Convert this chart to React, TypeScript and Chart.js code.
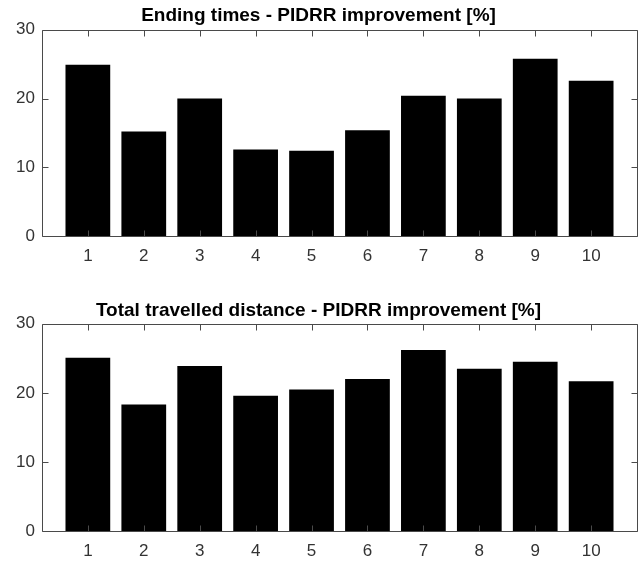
import React, { useEffect, useRef } from "react";
import { Chart, registerables } from "chart.js";

Chart.register(...registerables);

// ---- data ----
const categories = [1, 2, 3, 4, 5, 6, 7, 8, 9, 10];
const endingTimes = [24.9, 15.2, 20.0, 12.6, 12.4, 15.4, 20.4, 20.0, 25.8, 22.6];
const travelledDistance = [25.1, 18.3, 23.9, 19.6, 20.5, 22.0, 26.2, 23.5, 24.5, 21.7];
const yTicks = [0, 10, 20, 30];
const titles = [
  "Ending times - PIDRR improvement [%]",
  "Total travelled distance - PIDRR improvement [%]",
];

const AXIS_COLOR = "#4a4a4a";
const LABEL_COLOR = "#333333";
const TICK = 6;
const FONT = "'Liberation Sans', Arial, Helvetica, sans-serif";

const boxPlugin = {
  id: "matlabBox",
  afterDatasetsDraw(chart: any) {
    const { ctx, chartArea: a, scales } = chart;
    const x = scales.x;
    const y = scales.y;
    const L = Math.round(a.left) + 0.5;
    const R = Math.round(a.right) + 0.5;
    const T = Math.round(a.top) + 0.5;
    const B = Math.round(a.bottom) + 0.5;
    ctx.save();
    ctx.strokeStyle = AXIS_COLOR;
    ctx.lineWidth = 1;
    ctx.beginPath();
    ctx.rect(L, T, R - L, B - T);
    x.ticks.forEach((t: any) => {
      const px = Math.round(x.getPixelForValue(t.value)) + 0.5;
      ctx.moveTo(px, B);
      ctx.lineTo(px, B - TICK);
      ctx.moveTo(px, T);
      ctx.lineTo(px, T + TICK);
    });
    y.ticks.forEach((t: any) => {
      const py = Math.round(y.getPixelForValue(t.value)) + 0.5;
      ctx.moveTo(L, py);
      ctx.lineTo(L + TICK, py);
      ctx.moveTo(R, py);
      ctx.lineTo(R - TICK, py);
    });
    ctx.stroke();
    ctx.restore();
  },
};

function makeConfig(
  values: number[],
  title: string,
  titlePad: { top: number; bottom: number },
  xAxisHeight: number
): any {
  return {
    type: "bar",
    data: {
      labels: categories,
      datasets: [
        {
          data: values,
          backgroundColor: "#000000",
          borderColor: "#000000",
          borderWidth: 0,
          categoryPercentage: 1,
          barPercentage: 0.8,
        },
      ],
    },
    options: {
      responsive: false,
      animation: false,
      devicePixelRatio: 1,
      layout: { padding: { left: 0, right: 7, top: 0, bottom: 0 } },
      plugins: {
        legend: { display: false },
        tooltip: { enabled: false },
        title: {
          display: true,
          text: title,
          color: "#000000",
          font: { family: FONT, size: 19, weight: "bold", lineHeight: 1.2 },
          padding: titlePad,
        },
      },
      scales: {
        x: {
          type: "linear",
          offset: false,
          min: 0.18,
          max: 10.82,
          grid: { display: false, drawTicks: false, offset: false },
          border: { display: false },
          afterBuildTicks: (s: any) => {
            s.ticks = categories.map((v) => ({ value: v }));
          },
          afterFit: (s: any) => {
            s.height = xAxisHeight;
          },
          ticks: {
            color: LABEL_COLOR,
            font: { family: FONT, size: 17 },
            padding: 10,
            autoSkip: false,
            maxRotation: 0,
            callback: (v: any) => String(v),
          },
        },
        y: {
          min: 0,
          max: 30,
          grid: { display: false, drawTicks: false },
          border: { display: false },
          afterBuildTicks: (s: any) => {
            s.ticks = yTicks.map((v) => ({ value: v }));
          },
          afterFit: (s: any) => {
            s.width = 42;
          },
          ticks: {
            color: LABEL_COLOR,
            font: { family: FONT, size: 17 },
            padding: 7,
          },
        },
      },
    },
    plugins: [boxPlugin],
  };
}

export default function App() {
  const ref1 = useRef<HTMLCanvasElement | null>(null);
  const ref2 = useRef<HTMLCanvasElement | null>(null);

  useEffect(() => {
    const c1 = new Chart(
      ref1.current as HTMLCanvasElement,
      makeConfig(endingTimes, titles[0], { top: 4, bottom: 3 }, 46)
    );
    const c2 = new Chart(
      ref2.current as HTMLCanvasElement,
      makeConfig(travelledDistance, titles[1], { top: 17, bottom: 2 }, 32)
    );
    return () => {
      c1.destroy();
      c2.destroy();
    };
  }, []);

  return (
    <div
      style={{
        position: "absolute",
        left: 0,
        top: 0,
        width: 644,
        height: 563,
        background: "#ffffff",
      }}
    >
      <canvas ref={ref1} width={644} height={282} style={{ display: "block", width: 644, height: 282 }} />
      <canvas ref={ref2} width={644} height={281} style={{ display: "block", width: 644, height: 281 }} />
    </div>
  );
}
